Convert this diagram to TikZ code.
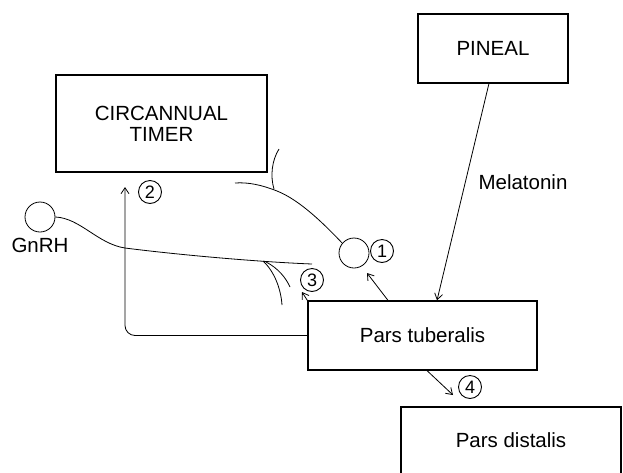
\documentclass[tikz,border=0pt]{standalone}
\usepackage{fontspec}
\setmainfont{Liberation Sans}
\usetikzlibrary{arrows.meta,calc}
\begin{document}
\begin{tikzpicture}[x=1pt,y=-1pt,
  box/.style={draw,line width=1.4pt,rectangle,inner sep=0pt,font=\fontsize{20.5}{24}\selectfont,align=center},
  cell/.style={draw,line width=0.8pt,circle,minimum size=30pt,inner sep=0pt},
  num/.style={draw,line width=0.9pt,circle,minimum size=23pt,inner sep=0pt,font=\fontsize{18}{18}\selectfont},
  lbl/.style={inner sep=0pt,font=\fontsize{20.5}{24}\selectfont},
  arr/.style={line width=0.8pt,-{Straight Barb[length=6pt,width=8pt]}},
  axon/.style={line width=0.8pt}]
\useasboundingbox (0,0) rectangle (623,472);
\node[box,minimum width=211pt,minimum height=97pt] (timer) at (161.5,123.5) {CIRCANNUAL\\[-3pt]TIMER};
\node[box,minimum width=150pt,minimum height=69pt] (pineal) at (493,48.5) {PINEAL};
\node[box,minimum width=229pt,minimum height=69pt] (tub) at (422.5,335.5) {Pars tuberalis};
\node[box,minimum width=220pt,minimum height=80pt,text depth=14pt] (dist) at (511,447) {Pars distalis};
\node[cell] (n1) at (354,253) {};
\node[cell] (gnrh) at (40,217) {};
\node[lbl] (gnrhl) at (40,245) {GnRH};
\node[lbl] (mel) at (523,182) {Melatonin};
\node[num] (c1) at (382,251) {1};
\node[num] (c2) at (150,192) {2};
\node[num] (c3) at (312,280) {3};
\node[num] (c4) at (470,387) {4};
% coordinates
\coordinate (pinb) at ($(pineal.south west)!0.473!(pineal.south east)$);
\coordinate (tubt) at ($(tub.north west)!0.563!(tub.north east)$);
\coordinate (tub1) at ($(tub.north west)!0.35!(tub.north east)$);
\coordinate (tip1) at (367,273);
\coordinate (tip3) at (302,292);
\coordinate (tip2) at (125,187);
\coordinate (tub4) at ($(tub.south west)!0.52!(tub.south east)$);
\coordinate (tip4) at (453,395);
% arrows
\draw[arr] (pinb) -- (tubt);
\draw[arr] (tub1) -- (tip1);
\draw[arr] (tub.north west) -- (tip3);
\draw[arr,rounded corners=10pt] (tub.west) -- (tub.west -| tip2) -- (tip2);
\draw[arr] (tub4) -- (tip4);
% neuron 1 axon
\coordinate (a1) at (235,183);
\coordinate (a1b) at (279,149);
\draw[axon] (n1.140) .. controls (325,225) and (300,200) .. (277,191)
  .. controls (262,185) and (248,182) .. (a1);
\draw[axon] (274,189) .. controls (270,176) and (272,160) .. (a1b);
% GnRH axon
\coordinate (g1) at (312,264);
\coordinate (g2) at (282,305);
\coordinate (g3) at (290,287);
\draw[axon] (gnrh.east) .. controls (80,218) and (98,244) .. (125,248)
  .. controls (180,255) and (260,262) .. (g1);
\draw[axon] (263,261) .. controls (275,272) and (281,290) .. (g2);
\draw[axon] (266,262) .. controls (278,268) and (286,278) .. (g3);
\end{tikzpicture}
\end{document}
